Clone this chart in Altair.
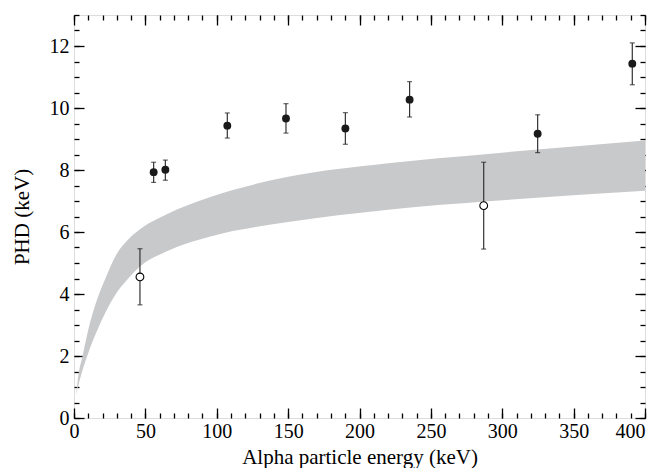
import altair as alt
import pandas as pd

# Band (model range)
band_energy = [1.4, 3, 6, 10, 16, 22, 30, 38, 46, 65, 95, 150, 220, 290, 400]
band_low = [0.74, 1.05, 1.55, 2.1, 2.8, 3.4, 4.05, 4.5, 4.88, 5.38, 5.85, 6.32, 6.72, 6.99, 7.33]
band_high = [0.74, 1.35, 2.0, 2.85, 3.8, 4.5, 5.3, 5.76, 6.08, 6.57, 7.12, 7.78, 8.22, 8.52, 8.95]

# Filled points
filled_energy = [55.8, 64.0, 107.4, 148.5, 190.1, 235.1, 324.8, 391.1]
filled_phd = [7.93, 8.01, 9.43, 9.66, 9.34, 10.27, 9.17, 11.43]
filled_lo = [7.60, 7.67, 9.03, 9.19, 8.83, 9.71, 8.56, 10.75]
filled_hi = [8.25, 8.32, 9.84, 10.14, 9.85, 10.85, 9.78, 12.10]

# Open points
open_energy = [46.2, 287.0]
open_phd = [4.55, 6.85]
open_lo = [3.65, 5.45]
open_hi = [5.46, 8.25]

x_major = [0, 50, 100, 150, 200, 250, 300, 350, 400]
x_minor = list(range(0, 401, 10))
y_major = [0, 2, 4, 6, 8, 10, 12]
y_minor = [i * 0.5 for i in range(0, 27)]

band_df = pd.DataFrame({"e": band_energy, "lo": band_low, "hi": band_high})
filled_df = pd.DataFrame({"e": filled_energy, "v": filled_phd, "lo": filled_lo, "hi": filled_hi})
open_df = pd.DataFrame({"e": open_energy, "v": open_phd, "lo": open_lo, "hi": open_hi})
err_df = pd.concat([filled_df, open_df], ignore_index=True)

xs = alt.Scale(domain=[0, 400], nice=False, zero=False)
ys = alt.Scale(domain=[0, 13], nice=False, zero=False)

FONT = "Liberation Serif, Times New Roman, Times, serif"


def xaxis(orient, values, size, labels):
    kw = dict(orient=orient, values=values, tickSize=size, offset=-size, domain=False,
              grid=False, ticks=True, tickColor="black", tickWidth=1.3, labels=labels)
    if labels:
        kw.update(labelFont=FONT, labelFontSize=20, labelColor="black", labelPadding=3,
                  labelAlign={"condition": {"test": "datum.value >= 400", "value": "right"},
                              "value": "center"},
                  titleFont=FONT, titleFontSize=21, titleFontWeight="normal",
                  titleColor="black", titlePadding=5, labelFlush=False, labelOverlap=False)
    return alt.Axis(**kw)


def yaxis(orient, values, size, labels):
    kw = dict(orient=orient, values=values, tickSize=size, offset=-size, domain=False,
              grid=False, ticks=True, tickColor="black", tickWidth=1.3, labels=labels)
    if labels:
        kw.update(labelFont=FONT, labelFontSize=20, labelColor="black", labelPadding=5,
                  titleFont=FONT, titleFontSize=21, titleFontWeight="normal",
                  titleColor="black", titlePadding=17, labelFlush=False, labelOverlap=False)
    return alt.Axis(**kw)


band = alt.Chart(band_df).mark_area(color="#c8c9cb", interpolate="monotone").encode(
    x=alt.X("e:Q", scale=xs, axis=xaxis("bottom", x_major, 10, True),
            title="Alpha particle energy (keV)"),
    y=alt.Y("lo:Q", scale=ys, axis=yaxis("left", y_major, 10, True), title="PHD (keV)"),
    y2="hi:Q",
)

err = alt.Chart(err_df).mark_rule(color="#333333", strokeWidth=1.2).encode(
    x=alt.X("e:Q", scale=xs, axis=xaxis("bottom", x_minor, 5, False), title=None),
    y=alt.Y("lo:Q", scale=ys, axis=yaxis("left", y_minor, 5, False), title=None),
    y2="hi:Q",
)

caps = alt.Chart(err_df).transform_fold(["lo", "hi"], as_=["k", "yv"]).mark_tick(
    orient="horizontal", size=5, thickness=1.2, color="#222222"
).encode(
    x=alt.X("e:Q", scale=xs, axis=xaxis("top", x_major, 10, False), title=None),
    y=alt.Y("yv:Q", scale=ys, axis=yaxis("right", y_major, 10, False), title=None),
)

filled = alt.Chart(filled_df).mark_point(
    shape="circle", filled=True, size=62, color="#1a1a1a", opacity=1
).encode(
    x=alt.X("e:Q", scale=xs, axis=xaxis("top", x_minor, 5, False), title=None),
    y=alt.Y("v:Q", scale=ys, axis=yaxis("right", y_minor, 5, False), title=None),
)

opened = alt.Chart(open_df).mark_point(
    shape="circle", filled=True, size=60, fill="white", stroke="black", strokeWidth=1.1, opacity=1
).encode(
    x=alt.X("e:Q", scale=xs, axis=None),
    y=alt.Y("v:Q", scale=ys, axis=None),
)

chart = alt.layer(band, err, caps, filled, opened).resolve_axis(
    x="independent", y="independent"
).properties(
    width=571, height=403,
    autosize=alt.AutoSizeParams(type="none"),
    padding={"left": 66, "top": 7, "right": 7, "bottom": 50},
).configure_view(stroke="black", strokeWidth=1.6).configure(
    background="white", font=FONT
).configure_axis(
    labelFont=FONT, titleFont=FONT, titleFontWeight="normal"
)

chart.save("out.html", embed_options={"renderer": "svg", "actions": False})
